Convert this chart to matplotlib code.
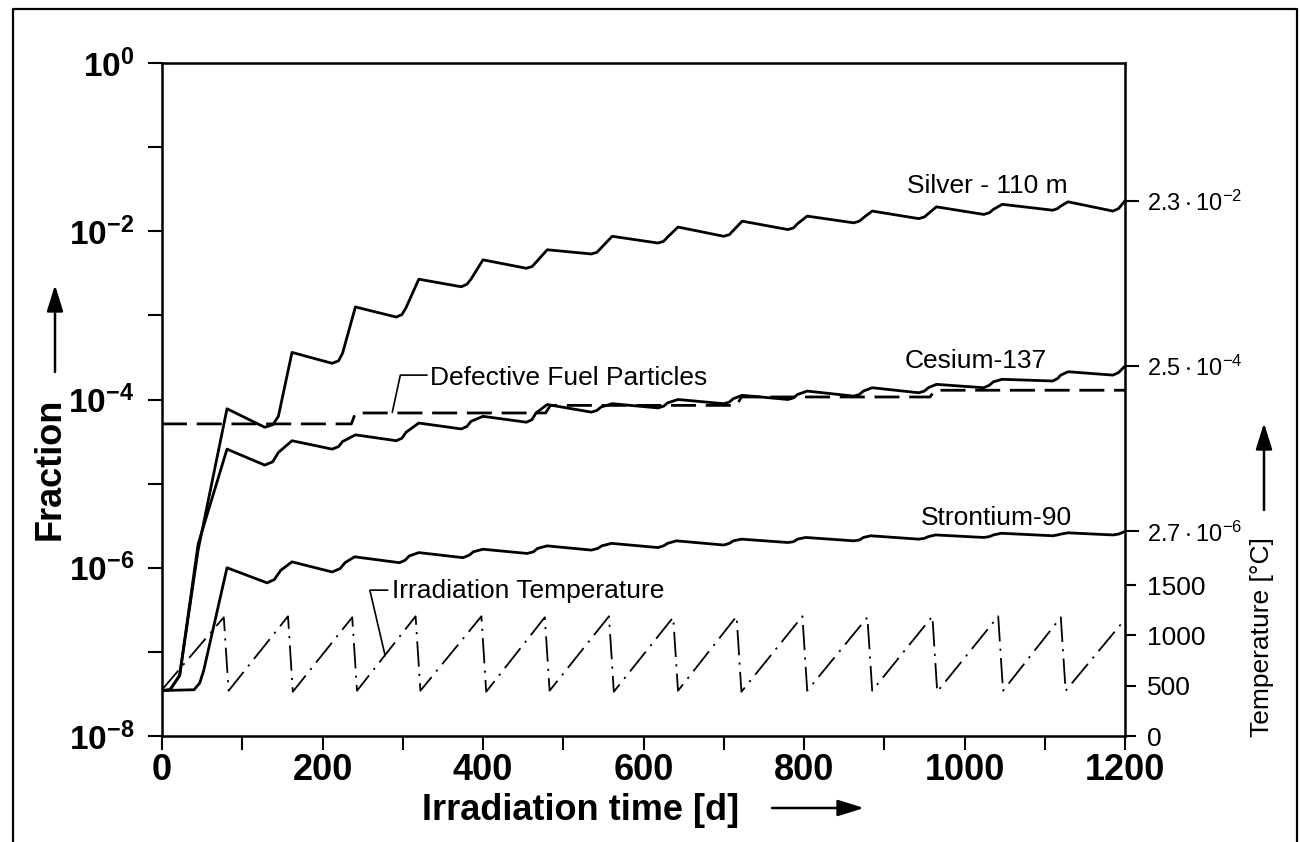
import numpy as np
import matplotlib
matplotlib.use("Agg")
import matplotlib.pyplot as plt
from matplotlib.lines import Line2D
from matplotlib.ticker import FixedLocator, NullLocator, NullFormatter

# release fractions, stored as log10(fraction) against irradiation time in days
ag_days = [0, 10, 22, 45, 81,
           128, 138, 145, 162,
           212, 220, 225, 241,
           292, 299, 304, 320,
           373, 380, 385, 400,
           454, 461, 466, 480,
           535, 542, 547, 561,
           618, 625, 630, 643,
           700, 707, 712, 723,
           780, 787, 792, 804,
           862, 869, 874, 885,
           943, 950, 955, 965,
           1024, 1031, 1036, 1047,
           1110, 1116, 1120, 1129,
           1185, 1192, 1200]
ag_log = [-7.46, -7.45, -7.28, -5.79, -4.11,
          -4.33, -4.30, -4.20, -3.44,
          -3.57, -3.54, -3.45, -2.90,
          -3.02, -2.99, -2.91, -2.57,
          -2.66, -2.63, -2.57, -2.34,
          -2.44, -2.42, -2.37, -2.22,
          -2.27, -2.25, -2.20, -2.06,
          -2.14, -2.12, -2.07, -1.95,
          -2.06, -2.04, -1.99, -1.88,
          -1.98, -1.96, -1.91, -1.82,
          -1.90, -1.88, -1.84, -1.76,
          -1.85, -1.83, -1.79, -1.71,
          -1.80, -1.78, -1.74, -1.68,
          -1.75, -1.73, -1.70, -1.65,
          -1.76, -1.73, -1.638]

cs_days = ag_days
cs_log = [-7.46, -7.45, -7.28, -5.72, -4.59,
          -4.78, -4.74, -4.63, -4.49,
          -4.59, -4.56, -4.50, -4.42,
          -4.49, -4.46, -4.39, -4.28,
          -4.35, -4.32, -4.26, -4.20,
          -4.27, -4.24, -4.16, -4.06,
          -4.15, -4.13, -4.09, -4.05,
          -4.10, -4.08, -4.04, -4.00,
          -4.05, -4.03, -3.99, -3.95,
          -4.00, -3.98, -3.94, -3.90,
          -3.96, -3.94, -3.90, -3.86,
          -3.92, -3.90, -3.86, -3.82,
          -3.86, -3.83, -3.79, -3.76,
          -3.78, -3.75, -3.71, -3.67,
          -3.71, -3.68, -3.602]

sr_days = [0, 40, 47, 52, 81,
           131, 140, 148, 162,
           212, 222, 228, 240,
           296, 303, 308, 320,
           375, 383, 388, 400,
           455, 463, 468, 480,
           535, 543, 548, 560,
           618, 625, 630, 641,
           700, 707, 712, 722,
           780, 787, 792, 802,
           862, 869, 874, 883,
           943, 950, 955, 964,
           1024, 1031, 1036, 1046,
           1110, 1116, 1120, 1129,
           1185, 1192, 1200]
sr_log = [-7.46, -7.45, -7.37, -7.22, -6.00,
          -6.18, -6.14, -6.03, -5.93,
          -6.05, -6.01, -5.94, -5.87,
          -5.94, -5.91, -5.86, -5.82,
          -5.88, -5.85, -5.81, -5.78,
          -5.83, -5.81, -5.77, -5.74,
          -5.79, -5.77, -5.74, -5.71,
          -5.76, -5.74, -5.71, -5.68,
          -5.73, -5.71, -5.68, -5.66,
          -5.70, -5.69, -5.66, -5.64,
          -5.68, -5.67, -5.64, -5.62,
          -5.66, -5.65, -5.63, -5.61,
          -5.64, -5.63, -5.61, -5.59,
          -5.62, -5.61, -5.60, -5.585,
          -5.61, -5.60, -5.569]

# defective fuel particle fraction
dfp_days = [0, 236, 241, 478, 484, 716, 722, 957, 963, 1200]
dfp_log = [-4.29, -4.29, -4.16, -4.16, -4.07, -4.07, -3.97, -3.97, -3.89, -3.89]

# irradiation temperature cycles
temp_days = [0, 77, 83, 157, 163, 237, 243, 316, 322, 398, 404, 477, 483, 557, 563,
             637, 643, 716, 722, 798, 804, 879, 885, 960, 966, 1042, 1048, 1120, 1126, 1200]
temp_c = [460, 1180, 450, 1190, 440, 1180, 450, 1190, 450, 1190, 440, 1180, 450, 1190, 440,
          1180, 450, 1190, 440, 1190, 450, 1180, 450, 1190, 440, 1190, 450, 1180, 450, 1160]

end_values = [2.3e-2, 2.5e-4, 2.7e-6]
end_labels = [r"$\mathregular{2.3\cdot10^{-2}}$", r"$\mathregular{2.5\cdot10^{-4}}$",
              r"$\mathregular{2.7\cdot10^{-6}}$"]

x_ticks = [0, 200, 400, 600, 800, 1000, 1200]
y_ticks = [1e0, 1e-2, 1e-4, 1e-6, 1e-8]
y_ticklabels = [r"$\mathregular{10^{0}}$", r"$\mathregular{10^{-2}}$", r"$\mathregular{10^{-4}}$",
                r"$\mathregular{10^{-6}}$", r"$\mathregular{10^{-8}}$"]
t_ticks = [0, 500, 1000, 1500]

plt.rcParams["font.family"] = ["Liberation Sans", "DejaVu Sans"]

W, H = 1300, 842
fig = plt.figure(figsize=(W / 100, H / 100), dpi=100)
ax = fig.add_axes([162 / W, 1 - 736 / H, (1125 - 162) / W, (736 - 63) / H])

ax.set_yscale("log")
ax.set_xlim(0, 1200)
ax.set_ylim(1e-8, 1)

lw = 2.0
ax.plot(ag_days, 10 ** np.array(ag_log), color="k", lw=lw)
ax.plot(cs_days, 10 ** np.array(cs_log), color="k", lw=lw)
ax.plot(sr_days, 10 ** np.array(sr_log), color="k", lw=lw)
ax.plot(dfp_days, 10 ** np.array(dfp_log), color="k", lw=2.0, linestyle=(0, (9, 3.5)))

for s in ax.spines.values():
    s.set_linewidth(1.8)

ax.xaxis.set_major_locator(FixedLocator(x_ticks))
ax.xaxis.set_minor_locator(FixedLocator(range(100, 1200, 200)))
ax.yaxis.set_major_locator(FixedLocator(y_ticks))
ax.yaxis.set_minor_locator(FixedLocator([1e-1, 1e-3, 1e-5, 1e-7]))
ax.yaxis.set_minor_formatter(NullFormatter())
ax.set_yticklabels(y_ticklabels, fontsize=24, fontweight="bold")
ax.set_xticklabels([str(v) for v in x_ticks], fontsize=26, fontweight="bold")
ax.tick_params(axis="x", which="both", direction="out", length=10, width=1.5, pad=2)
ax.tick_params(axis="y", which="both", direction="out", length=10, width=1.5, pad=10)

# temperature scale on the right
axT = ax.twinx()
axT.set_ylim(0, 6690)
axT.plot(temp_days, temp_c, color="k", lw=1.3, linestyle=(0, (14, 4, 1.2, 4)))
axT.yaxis.set_major_locator(FixedLocator(t_ticks))
axT.yaxis.set_minor_locator(NullLocator())
axT.set_yticklabels([str(v) for v in t_ticks], fontsize=19)
axT.tick_params(axis="y", direction="out", length=8, width=1.5, pad=8)
for s in axT.spines.values():
    s.set_visible(False)

# end values of the fractions, marked on the right edge
axF = ax.twinx()
axF.set_yscale("log")
axF.set_ylim(1e-8, 1)
axF.yaxis.set_major_locator(FixedLocator(end_values))
axF.yaxis.set_minor_locator(NullLocator())
axF.set_yticklabels(end_labels, fontsize=17)
axF.tick_params(axis="y", direction="out", length=10, width=1.5, pad=6)
for s in axF.spines.values():
    s.set_visible(False)

# curve names
tkw = dict(fontsize=19, va="baseline")
ax.text(928, 10 ** -1.545, "Silver - 110 m", **tkw)
ax.text(926, 10 ** -3.627, "Cesium-137", **tkw)
ax.text(1134, 10 ** -5.49, "Strontium-90", ha="right", **tkw)
ax.text(334, 10 ** -3.83, "Defective Fuel Particles", **tkw)
axT.text(287, 1372, "Irradiation Temperature", **tkw)

# leader lines
ax.plot([330, 297, 287], [10 ** -3.71, 10 ** -3.71, 10 ** -4.15], color="k", lw=1.2)
axT.plot([281, 259, 278], [1450, 1450, 800], color="k", lw=1.2)

# axis titles with arrows
fig.text(50 / W, 1 - 469 / H, "Fraction", rotation=90, ha="center", va="center",
         fontsize=26, fontweight="bold")
fig.text(581 / W, 1 - 820 / H, "Irradiation time [d]", ha="center", va="baseline",
         fontsize=26, fontweight="bold")
fig.text(1262 / W, 1 - 737 / H, "Temperature [°C]", rotation=90, ha="center", va="bottom", fontsize=19)

akw = dict(arrowstyle="-|>,head_length=0.8,head_width=0.25", lw=1.8, color="k", mutation_scale=20,
           shrinkA=0, shrinkB=0)
fig.add_artist(plt.Annotation("", xy=(55 / W, 1 - 285 / H), xytext=(55 / W, 1 - 372 / H),
                              xycoords="figure fraction", arrowprops=akw))
fig.add_artist(plt.Annotation("", xy=(864 / W, 1 - 808 / H), xytext=(772 / W, 1 - 808 / H),
                              xycoords="figure fraction", arrowprops=akw))
fig.add_artist(plt.Annotation("", xy=(1264 / W, 1 - 423 / H), xytext=(1264 / W, 1 - 510 / H),
                              xycoords="figure fraction", arrowprops=akw))

# frame round the page
fig.add_artist(Line2D([13 / W, 13 / W, 1297 / W, 1297 / W], [0, 1 - 9 / H, 1 - 9 / H, 0],
                      transform=fig.transFigure, color="k", lw=1.6))

fig.savefig("out.png", dpi=100)
